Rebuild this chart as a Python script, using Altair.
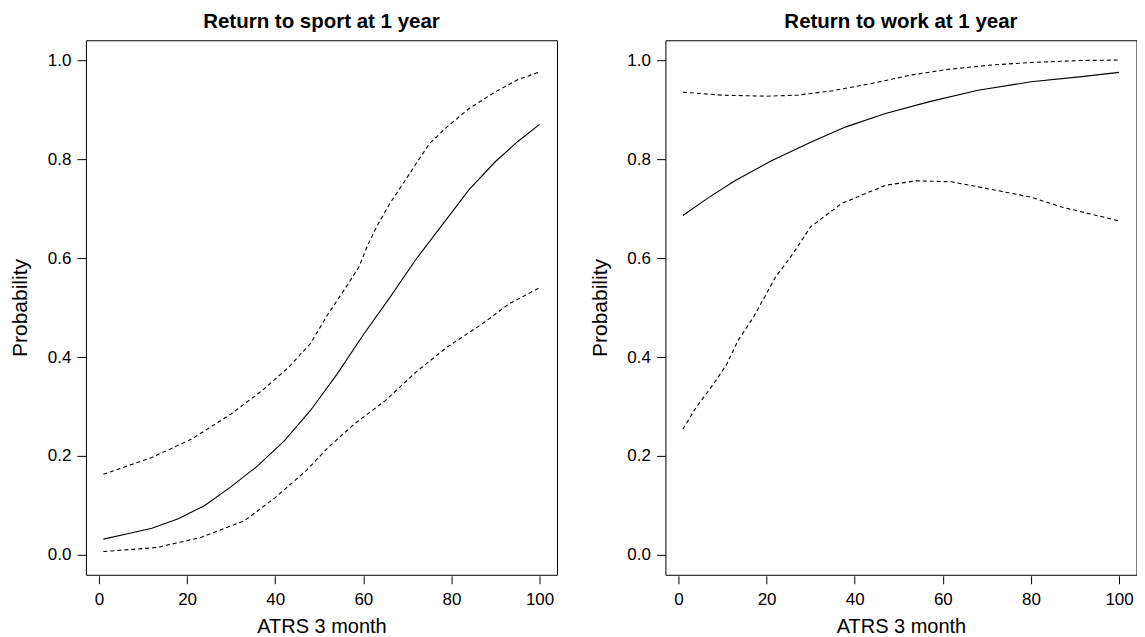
import altair as alt
import pandas as pd

# ---- Return to sport at 1 year ----
sport_fit_x = [1, 6, 12, 18, 24, 30, 36, 42, 48, 54, 60, 66, 72, 78, 84, 90, 95, 100]
sport_fit_p = [0.032, 0.042, 0.054, 0.073, 0.100, 0.138, 0.180, 0.230, 0.292, 0.365,
               0.445, 0.520, 0.598, 0.668, 0.738, 0.795, 0.835, 0.870]
sport_up_x = [1, 12, 21, 30, 37, 43, 48, 52, 56, 59, 61, 63, 66, 69, 72, 75, 79, 84, 90, 95, 100]
sport_up_p = [0.163, 0.197, 0.234, 0.285, 0.332, 0.379, 0.427, 0.487, 0.540, 0.582, 0.626,
              0.663, 0.710, 0.750, 0.791, 0.831, 0.865, 0.902, 0.936, 0.960, 0.976]
sport_lo_x = [1, 13, 23, 33, 40, 47, 52, 58, 65, 72, 79, 87, 93, 100]
sport_lo_p = [0.007, 0.015, 0.035, 0.069, 0.116, 0.170, 0.217, 0.265, 0.312, 0.370,
              0.420, 0.467, 0.507, 0.540]

# ---- Return to work at 1 year ----
work_fit_x = [1, 7, 13, 21, 30, 38, 47, 57, 68, 80, 91, 100]
work_fit_p = [0.686, 0.723, 0.757, 0.796, 0.834, 0.865, 0.892, 0.916, 0.939, 0.956, 0.966, 0.975]
work_up_x = [1, 10, 20, 27, 35, 44, 53, 61, 71, 80, 91, 100]
work_up_p = [0.935, 0.929, 0.927, 0.929, 0.938, 0.953, 0.970, 0.981, 0.990, 0.995, 0.999, 1.0]
work_lo_x = [1, 4, 8, 11, 13.5, 17, 22, 26, 30, 37, 47, 54, 62, 72, 80, 87, 100]
work_lo_p = [0.254, 0.298, 0.346, 0.386, 0.433, 0.480, 0.561, 0.609, 0.663, 0.710,
             0.747, 0.756, 0.754, 0.737, 0.723, 0.703, 0.675]

x_ticks = [0, 20, 40, 60, 80, 100]
y_ticks = [0.0, 0.2, 0.4, 0.6, 0.8, 1.0]

FONT = "Liberation Sans"


def frame(xs, ps, band):
    return pd.DataFrame({"x": xs, "p": ps, "band": band})


def panel(title, fx, fp, lx, lp, ux, up):
    fit = frame(fx, fp, "fit")
    bands = pd.concat([frame(lx, lp, "lower"), frame(ux, up, "upper")], ignore_index=True)

    x_enc = alt.X(
        "x:Q",
        scale=alt.Scale(domain=[-2.96, 103.96], nice=False, zero=False),
        axis=alt.Axis(
            values=x_ticks, title="ATRS 3 month", domain=False, grid=False,
            tickSize=8, tickColor="black", tickWidth=1, offset=1,
            labelFont=FONT, labelFontSize=17, labelColor="black", labelPadding=8,
            labelAngle=0, labelFlush=False,
            titleFont=FONT, titleFontSize=20, titleFontWeight="normal", titleColor="black",
            titleBaseline="alphabetic", titleY=57,
        ),
    )
    y_enc = alt.Y(
        "p:Q",
        scale=alt.Scale(domain=[-0.04, 1.04], nice=False, zero=False),
        axis=alt.Axis(
            values=y_ticks, format=".1f", title="Probability", domain=False, grid=False,
            tickSize=9, tickColor="black", tickWidth=1,
            labelFont=FONT, labelFontSize=17, labelColor="black", labelPadding=6,
            labelFlush=False,
            titleFont=FONT, titleFontSize=21, titleFontWeight="normal", titleColor="black",
            titleAngle=270, titleBaseline="alphabetic", titleAlign="center",
            titleX=-59, titleY=267.5,
        ),
    )
    solid = alt.Chart(fit).mark_line(color="black", strokeWidth=1.1).encode(x=x_enc, y=y_enc)
    dashed = alt.Chart(bands).mark_line(color="black", strokeWidth=1.1, strokeDash=[4, 3]).encode(
        x=x_enc, y=y_enc, detail="band:N"
    )
    return alt.layer(solid, dashed).properties(
        width=471.5,
        height=535,
        title=alt.TitleParams(
            text=title, font=FONT, fontSize=20.5, fontWeight="bold", color="black",
            anchor="middle", frame="group", baseline="alphabetic", offset=-8,
        ),
    )


left = panel("Return to sport at 1 year", sport_fit_x, sport_fit_p, sport_lo_x, sport_lo_p,
             sport_up_x, sport_up_p)
right = panel("Return to work at 1 year", work_fit_x, work_fit_p, work_lo_x, work_lo_p,
              work_up_x, work_up_p)

chart = (
    alt.hconcat(left, right, spacing=108, bounds="flush")
    .properties(padding={"left": 1, "top": 3, "right": 0, "bottom": 0}, background="white")
    .configure_view(stroke="black", strokeWidth=1)
)

chart.save("out.html", embed_options={"renderer": "svg", "actions": False})
